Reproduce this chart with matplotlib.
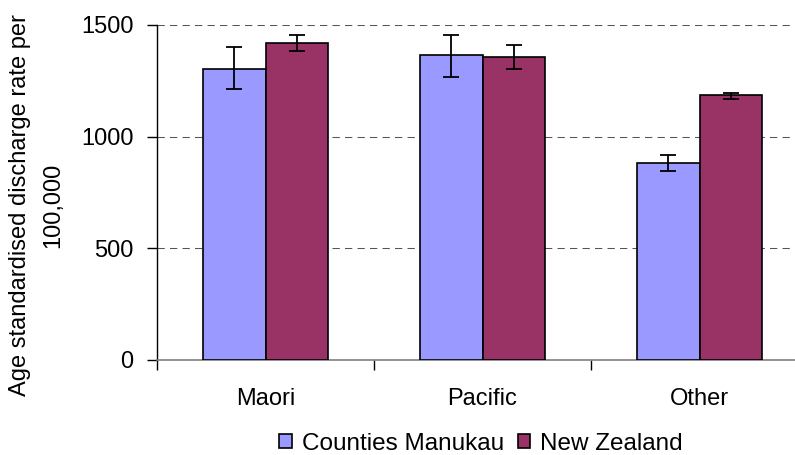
import numpy as np
import matplotlib.pyplot as plt
from matplotlib.ticker import FixedLocator

plt.rc('font', family=['Liberation Sans', 'DejaVu Sans'], size=17)

# values
categories = ['Maori', 'Pacific', 'Other']
series = ['Counties Manukau', 'New Zealand']
cm_rate = [1305, 1365, 880]
cm_low = [1213, 1266, 846]
cm_high = [1401, 1455, 916]
nz_rate = [1419, 1355, 1187]
nz_low = [1385, 1302, 1169]
nz_high = [1455, 1410, 1195]
yticks = [0, 500, 1000, 1500]

fig = plt.figure(figsize=(7.95, 4.55), dpi=100)
ax = fig.add_axes([157/795, 1 - 360/455, 1 - 157/795, (360 - 25)/455])

x = np.arange(len(categories))
w = 0.288
colors = ['#9999FF', '#993366']
for i, (vals, lo, hi) in enumerate([(cm_rate, cm_low, cm_high), (nz_rate, nz_low, nz_high)]):
    vals = np.array(vals)
    err = [vals - np.array(lo), np.array(hi) - vals]
    xs = x + (i - 0.5) * w
    ax.bar(xs, vals, width=w, color=colors[i], edgecolor='black', linewidth=1.2,
           label=series[i], zorder=3)
    ax.errorbar(xs, vals, yerr=err, fmt='none', ecolor='black', elinewidth=1.3,
                capsize=5.5, capthick=1.3, zorder=4)

ax.set_xlim(-0.5, 2.44)
ax.set_ylim(0, 1500)
ax.set_yticks(yticks)
ax.yaxis.grid(True, color='#555555', linestyle=(0, (7, 5)), linewidth=0.75, zorder=0)
ax.set_axisbelow(True)

ax.set_xticks(x)
ax.set_xticklabels(categories)
ax.xaxis.set_minor_locator(FixedLocator([-0.5, 0.5, 1.5]))
ax.tick_params(axis='x', which='major', length=0, pad=20)
ax.tick_params(axis='x', which='minor', length=7, width=1, color='black', direction='out')
ax.tick_params(axis='y', length=7, width=1, direction='out', pad=10)

for s in ['top', 'right']:
    ax.spines[s].set_visible(False)
ax.spines['bottom'].set_color('#808080')
ax.spines['bottom'].set_linewidth(1.2)
ax.spines['left'].set_color('black')
ax.spines['left'].set_linewidth(1)

fig.text(37/795, 1 - 205/455, 'Age standardised discharge rate per\n100,000',
         rotation=90, ha='center', va='center', multialignment='center', linespacing=1.65)

fig.legend(loc='center', bbox_to_anchor=(481/795, 1 - 444/455), ncol=2, frameon=False,
           fontsize=17.5, handlelength=0.52, handleheight=0.52, handletextpad=0.4,
           columnspacing=0.58, borderaxespad=0, borderpad=0)

fig.savefig('out.png', dpi=100)
